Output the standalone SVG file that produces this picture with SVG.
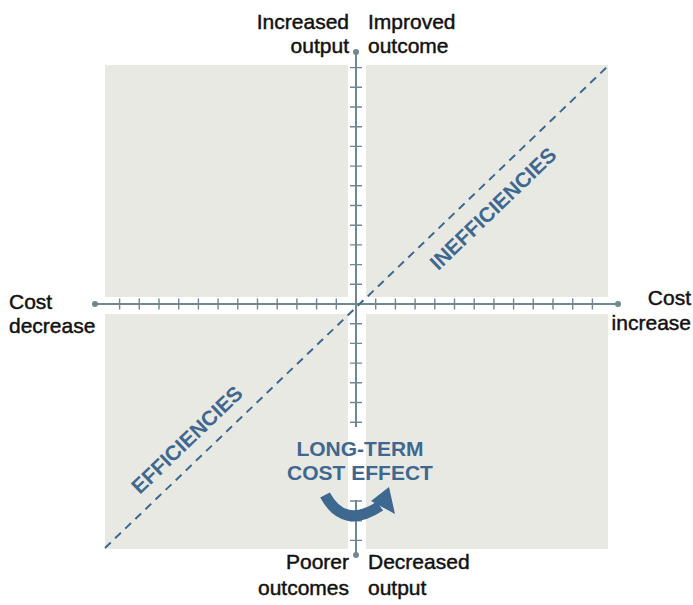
<svg xmlns="http://www.w3.org/2000/svg" width="693" height="605" viewBox="0 0 693 605">
<style>
.q{fill:#e9e9e4}
.ax{stroke:#6f8893;stroke-width:2;fill:none}
.tk{stroke:#6f8893;stroke-width:1.4;fill:none}
.lb{font-family:"Liberation Sans",Arial,sans-serif;font-size:21px;fill:#111;stroke:#111;stroke-width:0.45}
.bl{font-family:"Liberation Sans",Arial,sans-serif;font-size:21px;font-weight:bold;fill:#3e6890}
</style>
<rect width="693" height="605" fill="#fff"/>
<g id="quadrants">
<rect id="q-top-left" class="q" x="105" y="65" width="243" height="232"/>
<rect id="q-top-right" class="q" x="366" y="65" width="242" height="232"/>
<rect id="q-bottom-left" class="q" x="105" y="314" width="243" height="235"/>
<rect id="q-bottom-right" class="q" x="366" y="314" width="242" height="235"/>
</g>
<g id="connectors">
<line class="ax" x1="95" y1="304" x2="618" y2="304"/>
<line class="ax" x1="356" y1="52" x2="356" y2="555"/>
<circle cx="95" cy="304" r="3" fill="#6f8893"/>
<circle cx="618" cy="304" r="3" fill="#6f8893"/>
<circle cx="356" cy="52" r="3" fill="#6f8893"/>
<circle cx="356" cy="555" r="3" fill="#6f8893"/>
<path class="tk" d="M119.6 298.5v11M139.3 298.5v11M159 298.5v11M178.7 298.5v11M198.4 298.5v11M218.1 298.5v11M237.8 298.5v11M257.5 298.5v11M277.2 298.5v11M296.9 298.5v11M316.6 298.5v11M336.3 298.5v11M375.7 298.5v11M395.4 298.5v11M415.1 298.5v11M434.8 298.5v11M454.5 298.5v11M474.2 298.5v11M493.9 298.5v11M513.6 298.5v11M533.3 298.5v11M553 298.5v11M572.7 298.5v11M592.4 298.5v11"/>
<path class="tk" d="M350 67.6h12M350 87.3h12M350 107h12M350 126.7h12M350 146.4h12M350 166.1h12M350 185.8h12M350 205.5h12M350 225.2h12M350 244.9h12M350 264.6h12M350 284.3h12M350 323.7h12M350 343.4h12M350 363.1h12M350 382.8h12M350 402.5h12M350 422.2h12M350 441.9h12M350 461.6h12M350 481.3h12M350 501h12M350 520.7h12M350 540.4h12"/>
<line x1="105" y1="548" x2="608" y2="66" stroke="#3e6890" stroke-width="2" stroke-dasharray="8 6"/>
</g>
<g id="axis-labels">
<text class="lb" x="349" y="29" text-anchor="end">Increased</text>
<text class="lb" x="349" y="53" text-anchor="end">output</text>
<text class="lb" x="368" y="29">Improved</text>
<text class="lb" x="368" y="53">outcome</text>
<text class="lb" x="9" y="309">Cost</text>
<text class="lb" x="9" y="333">decrease</text>
<text class="lb" x="691" y="305" text-anchor="end">Cost</text>
<text class="lb" x="691" y="330" text-anchor="end">increase</text>
<text class="lb" x="349" y="569" text-anchor="end">Poorer</text>
<text class="lb" x="349" y="595" text-anchor="end">outcomes</text>
<text class="lb" x="368" y="569">Decreased</text>
<text class="lb" x="368" y="595">output</text>
</g>
<g id="inefficiencies">
<text class="bl" x="498" y="214" text-anchor="middle" transform="rotate(-43.8 498 214)">INEFFICIENCIES</text>
</g>
<g id="efficiencies">
<text class="bl" x="192" y="445" text-anchor="middle" transform="rotate(-43.8 192 445)">EFFICIENCIES</text>
</g>
<g id="long-term">
<rect x="349" y="427" width="16" height="73" fill="#fff"/>
<text class="bl" x="360" y="456" text-anchor="middle">LONG-TERM</text>
<text class="bl" x="360" y="480" text-anchor="middle">COST EFFECT</text>
<path d="M325 495 Q344 530 380 506" stroke="#3e6890" stroke-width="11" fill="none"/>
<polygon points="389,487 371,501 395,514" fill="#3e6890"/>
</g>
</svg>
